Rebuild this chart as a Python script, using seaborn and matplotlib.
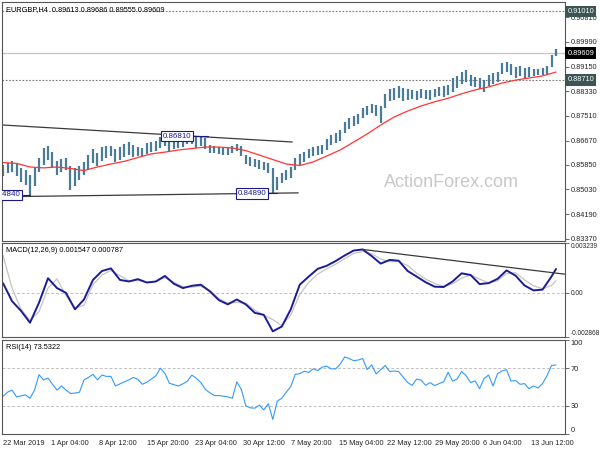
import numpy as np
import matplotlib
matplotlib.use('Agg')
import matplotlib.pyplot as plt
import seaborn as sns

# EURGBP H4, one sample every 3 bars
price_hi = [0.8585, 0.8591, 0.8598, 0.8588, 0.8575, 0.8568, 0.8551, 0.8575, 0.8608, 0.8642,
            0.8649, 0.8628, 0.8598, 0.8605, 0.8608, 0.8581, 0.8575, 0.8581, 0.8595, 0.8618,
            0.8638, 0.8625, 0.8645, 0.8649, 0.8649, 0.8638, 0.8645, 0.8655, 0.8662, 0.8652,
            0.8645, 0.8642, 0.8659, 0.8662, 0.8665, 0.8679, 0.8678, 0.8669, 0.8672, 0.8675,
            0.8675, 0.8679, 0.8680, 0.8679, 0.8681, 0.8676, 0.8652, 0.8649, 0.8645, 0.8642,
            0.8645, 0.8649, 0.8655, 0.8649, 0.8618, 0.8612, 0.8605, 0.8602, 0.8595, 0.8591,
            0.8575, 0.8544, 0.8558, 0.8568, 0.8578, 0.8608, 0.8622, 0.8628, 0.8638, 0.8645,
            0.8649, 0.8652, 0.8672, 0.8686, 0.8692, 0.8702, 0.8729, 0.8743, 0.8749, 0.8756,
            0.8776, 0.8783, 0.8790, 0.8786, 0.8783, 0.8823, 0.8840, 0.8843, 0.8850, 0.8843,
            0.8840, 0.8837, 0.8833, 0.8840, 0.8837, 0.8837, 0.8840, 0.8847, 0.8850, 0.8854,
            0.8877, 0.8884, 0.8897, 0.8904, 0.8887, 0.8880, 0.8877, 0.8870, 0.8887, 0.8894,
            0.8897, 0.8927, 0.8931, 0.8924, 0.8914, 0.8917, 0.8910, 0.8914, 0.8907, 0.8907,
            0.8910, 0.8917, 0.8954, 0.8974]
price_lo = [0.8548, 0.8558, 0.8561, 0.8548, 0.8528, 0.8518, 0.8484, 0.8514, 0.8561, 0.8585,
            0.8602, 0.8575, 0.8551, 0.8561, 0.8568, 0.8501, 0.8514, 0.8534, 0.8551, 0.8568,
            0.8591, 0.8581, 0.8598, 0.8608, 0.8615, 0.8595, 0.8602, 0.8612, 0.8618, 0.8612,
            0.8615, 0.8615, 0.8622, 0.8628, 0.8632, 0.8642, 0.8649, 0.8632, 0.8638, 0.8642,
            0.8645, 0.8655, 0.8655, 0.8642, 0.8649, 0.8638, 0.8625, 0.8625, 0.8622, 0.8618,
            0.8618, 0.8625, 0.8632, 0.8615, 0.8588, 0.8581, 0.8578, 0.8571, 0.8568, 0.8558,
            0.8489, 0.8501, 0.8524, 0.8534, 0.8541, 0.8568, 0.8585, 0.8595, 0.8608, 0.8615,
            0.8618, 0.8622, 0.8635, 0.8652, 0.8659, 0.8665, 0.8692, 0.8706, 0.8716, 0.8722,
            0.8743, 0.8753, 0.8759, 0.8749, 0.8726, 0.8776, 0.8800, 0.8803, 0.8810, 0.8800,
            0.8803, 0.8807, 0.8803, 0.8810, 0.8807, 0.8803, 0.8813, 0.8817, 0.8813, 0.8820,
            0.8830, 0.8843, 0.8857, 0.8864, 0.8850, 0.8847, 0.8840, 0.8830, 0.8850, 0.8857,
            0.8864, 0.8891, 0.8897, 0.8887, 0.8877, 0.8884, 0.8874, 0.8880, 0.8884, 0.8887,
            0.8887, 0.8891, 0.8914, 0.8952]

# red moving average, every 9 bars
ma_vals = [0.8593, 0.8590, 0.8578, 0.8575, 0.8578, 0.8573, 0.8566, 0.8578, 0.8588, 0.8597,
           0.8610, 0.8622, 0.8628, 0.8635, 0.8640, 0.8645, 0.8645, 0.8642, 0.8633, 0.8618,
           0.8603, 0.8588, 0.8583, 0.8595, 0.8615, 0.8635, 0.8662, 0.8689, 0.8719, 0.8746,
           0.8766, 0.8783, 0.8797, 0.8809, 0.8824, 0.8837, 0.8847, 0.8860, 0.8870, 0.8877,
           0.8884, 0.8897]

# MACD(12,26,9), every 6 bars (+ last bar)
macd_main = [0.00063, -0.00054, -0.00117, -0.00194, -0.00064, 0.00095, 0.00031, 0.00000, -0.00107, -0.00043,
             0.00084, 0.00142, 0.00159, 0.00084, 0.00074, 0.00089, 0.00067, 0.00074, 0.00110, 0.00059,
             0.00031, 0.00046, 0.00053, 0.00010, -0.00047, -0.00075, -0.00043, -0.00075, -0.00130, -0.00143,
             -0.00250, -0.00219, -0.00107, 0.00053, 0.00106, 0.00156, 0.00176, 0.00207, 0.00243, 0.00275,
             0.00282, 0.00239, 0.00190, 0.00214, 0.00209, 0.00142, 0.00106, 0.00069, 0.00040, 0.00038,
             0.00074, 0.00127, 0.00116, 0.00057, 0.00063, 0.00091, 0.00146, 0.00112, 0.00048, 0.00016,
             0.00021, 0.00106, 0.00155]
macd_signal = [0.00243, 0.00031, -0.00105, -0.00181, -0.00122, 0.00031, 0.00091, -0.00018, -0.00099, -0.00081,
               0.00053, 0.00116, 0.00146, 0.00112, 0.00078, 0.00080, 0.00069, 0.00074, 0.00099, 0.00069,
               0.00040, 0.00038, 0.00042, 0.00016, -0.00036, -0.00066, -0.00062, -0.00066, -0.00113, -0.00145,
               -0.00174, -0.00213, -0.00143, -0.00011, 0.00069, 0.00122, 0.00156, 0.00186, 0.00222, 0.00256,
               0.00269, 0.00254, 0.00220, 0.00203, 0.00203, 0.00178, 0.00129, 0.00089, 0.00061, 0.00042,
               0.00059, 0.00095, 0.00118, 0.00089, 0.00065, 0.00078, 0.00125, 0.00131, 0.00084, 0.00046,
               0.00027, 0.00048, 0.00079]

# RSI(14), every 3 bars
rsi_vals = [40.2, 44.5, 46.7, 39.5, 40.5, 41.6, 38.0, 46.7, 63.1, 57.6,
            59.5, 52.9, 46.7, 51.1, 46.7, 43.1, 43.5, 44.5, 57.6, 60.2,
            63.5, 57.6, 62.7, 61.3, 61.3, 51.1, 53.3, 55.5, 57.6, 60.2,
            58.0, 52.9, 55.1, 58.4, 62.0, 70.0, 64.5, 54.0, 52.5, 51.1,
            53.3, 56.2, 62.7, 59.1, 54.7, 47.5, 43.8, 40.9, 40.9, 40.2,
            39.5, 38.0, 55.5, 47.5, 30.0, 27.8, 27.5, 30.7, 25.6, 32.2,
            15.5, 35.1, 38.0, 44.5, 50.4, 63.5, 64.2, 66.7, 65.6, 69.3,
            67.5, 71.1, 72.2, 69.3, 69.3, 74.4, 82.0, 80.2, 78.0, 78.7,
            80.2, 68.5, 73.6, 63.8, 68.5, 72.9, 66.4, 67.1, 66.4, 60.5,
            54.7, 51.8, 58.4, 57.3, 51.8, 54.7, 51.5, 53.6, 55.5, 65.6,
            56.2, 58.4, 66.4, 62.0, 54.7, 56.5, 48.2, 59.1, 62.7, 51.1,
            64.2, 67.1, 68.5, 56.2, 56.9, 52.9, 53.6, 48.2, 51.1, 48.9,
            53.6, 62.0, 72.9, 73.5]

date_labels = ['22 Mar 2019', '1 Apr 04:00', '8 Apr 12:00', '15 Apr 20:00', '23 Apr 04:00',
               '30 Apr 12:00', '7 May 20:00', '15 May 04:00', '22 May 12:00', '29 May 20:00',
               '6 Jun 04:00', '13 Jun 12:00']
price_ticks = [0.8337, 0.8419, 0.8503, 0.8585, 0.8667, 0.8751, 0.8833, 0.8915, 0.8999, 0.9081]

resistance = 0.9101
support = 0.8871
last_price = 0.89609

# drawn trendlines (bar, price)
upper_line = ([0, 193], [0.8719, 0.8662])
lower_line = ([-1, 197], [0.8478, 0.8491])
macd_line = ([240, 376], [0.00282, 0.00120])

# swing labels: text, bar where box ends, bar of the swing, level
swing_marks = [('0.84840', 13, 18, 0.8484),
               ('0.86810', 127, 137, 0.8681),
               ('0.84890', 177, 183, 0.8489)]

bars = np.arange(0, 370, 3)
ma_bars = np.arange(0, 370, 9)
macd_bars = np.append(np.arange(0, 367, 6), 369)
tick_bars = np.arange(0, 353, 32)

sns.set_style('white')
plt.rcParams['font.family'] = ['Liberation Sans', 'DejaVu Sans']
fs = 5.3
frame = '#555555'

fig = plt.figure(figsize=(6, 4.5), dpi=100)
ax1 = fig.add_axes([0.00333, 0.46444, 0.93833, 0.53111])
ax2 = fig.add_axes([0.00333, 0.25111, 0.93833, 0.20889])
ax3 = fig.add_axes([0.00333, 0.03556, 0.93833, 0.20889])

for ax in (ax1, ax2, ax3):
    ax.set_xlim(-0.7, 375)
    for s in ax.spines.values():
        s.set_visible(True)
        s.set_color(frame)
        s.set_linewidth(0.8)
    ax.yaxis.tick_right()
    ax.tick_params(axis='y', length=3, width=0.6, color=frame, pad=1.2, labelsize=fs)

# ---- price panel ----
ax1.set_ylim(0.83293, 0.91324)
ax1.axhline(resistance, color='#7a7a7a', lw=0.8, ls=(0, (1.5, 1.5)))
ax1.axhline(support, color='#7a7a7a', lw=0.8, ls=(0, (1.5, 1.5)))
ax1.axhline(last_price, color='#c8c8c8', lw=1.0)
ax1.vlines(bars, price_lo, price_hi, color='#4a7b98', lw=1.6)
sns.lineplot(x=ma_bars, y=ma_vals, ax=ax1, color='#ff3535', lw=0.9)
ax1.plot(upper_line[0], upper_line[1], color='#3a3a3a', lw=0.9)
ax1.plot(lower_line[0], lower_line[1], color='#3a3a3a', lw=0.9)
for txt, box_end, swing, lvl in swing_marks:
    ax1.plot([box_end, swing], [lvl, lvl], color='#1a1a80', lw=0.8)
    ax1.text(box_end - 1.2, lvl, txt, ha='right', va='center', fontsize=fs + 0.4,
             color='#1a1a90', clip_on=True,
             bbox=dict(boxstyle='square,pad=0.2', fc='white', ec='#1a1a90', lw=0.8))

ax1.set_yticks(price_ticks)
ax1.set_yticklabels(['%.5f' % v for v in price_ticks])
ax1.set_xticks([])
ax1.text(0.007, 0.985, 'EURGBP,H4  0.89613 0.89686 0.89555 0.89609', transform=ax1.transAxes,
         ha='left', va='top', fontsize=fs, color='black')
ax1.text(0.799, 0.243, 'ActionForex.com', transform=ax1.transAxes, ha='center', va='center',
         fontsize=13, color='#c8c8c8')

ytr = ax1.get_yaxis_transform()
for lvl, txt, bg in [(resistance, '0.91010', '#3b5454'), (support, '0.88710', '#3b5454'),
                     (last_price, '0.89609', 'black')]:
    ax1.text(1.0045, lvl, txt, transform=ytr, ha='left', va='center', fontsize=fs, color='white',
             bbox=dict(boxstyle='square,pad=0.3', fc=bg, ec='none'), clip_on=False)

# ---- MACD panel ----
ax2.set_ylim(-0.002868, 0.003239)
ax2.axhline(0, color='#c0c0c0', lw=0.7, ls=(0, (3, 2)))
sns.lineplot(x=macd_bars, y=macd_signal, ax=ax2, color='#c4c4c4', lw=0.9)
sns.lineplot(x=macd_bars, y=macd_main, ax=ax2, color='#1c1c96', lw=1.4)
ax2.plot(macd_line[0], macd_line[1], color='#3a3a3a', lw=0.9)
ax2.set_yticks([-0.002868, 0, 0.003239])
ax2.set_yticklabels(['-0.002868', '0.00', '0.003239'])
ax2.tick_params(axis='y', labelsize=4.7, pad=0.8)
ax2.get_yticklabels()[0].set_va('bottom')
ax2.get_yticklabels()[2].set_va('top')
ax2.set_xticks([])
ax2.text(0.007, 0.955, 'MACD(12,26,9) 0.001547 0.000787', transform=ax2.transAxes,
         ha='left', va='top', fontsize=fs, color='black')

# ---- RSI panel ----
ax3.set_ylim(0, 100)
for lvl in (30, 70):
    ax3.axhline(lvl, color='#c0c0c0', lw=0.7, ls=(0, (3, 2)))
sns.lineplot(x=bars, y=rsi_vals, ax=ax3, color='#3399ff', lw=0.8)
ax3.set_yticks([0, 30, 70, 100])
ax3.set_yticklabels(['0', '30', '70', '100'])
ax3.get_yticklabels()[0].set_va('bottom')
ax3.get_yticklabels()[3].set_va('top')
ax3.text(0.007, 0.955, 'RSI(14) 73.5322', transform=ax3.transAxes,
         ha='left', va='top', fontsize=fs, color='black')
ax3.set_xticks(tick_bars)
ax3.set_xticklabels(date_labels)
ax3.tick_params(axis='x', length=3, width=0.6, color=frame, pad=1.0, labelsize=fs)
for lab in ax3.get_xticklabels():
    lab.set_ha('left')
for ax in (ax1, ax2, ax3):
    ax.set_xlabel('')
    ax.set_ylabel('')

fig.savefig('out.png', dpi=100)
